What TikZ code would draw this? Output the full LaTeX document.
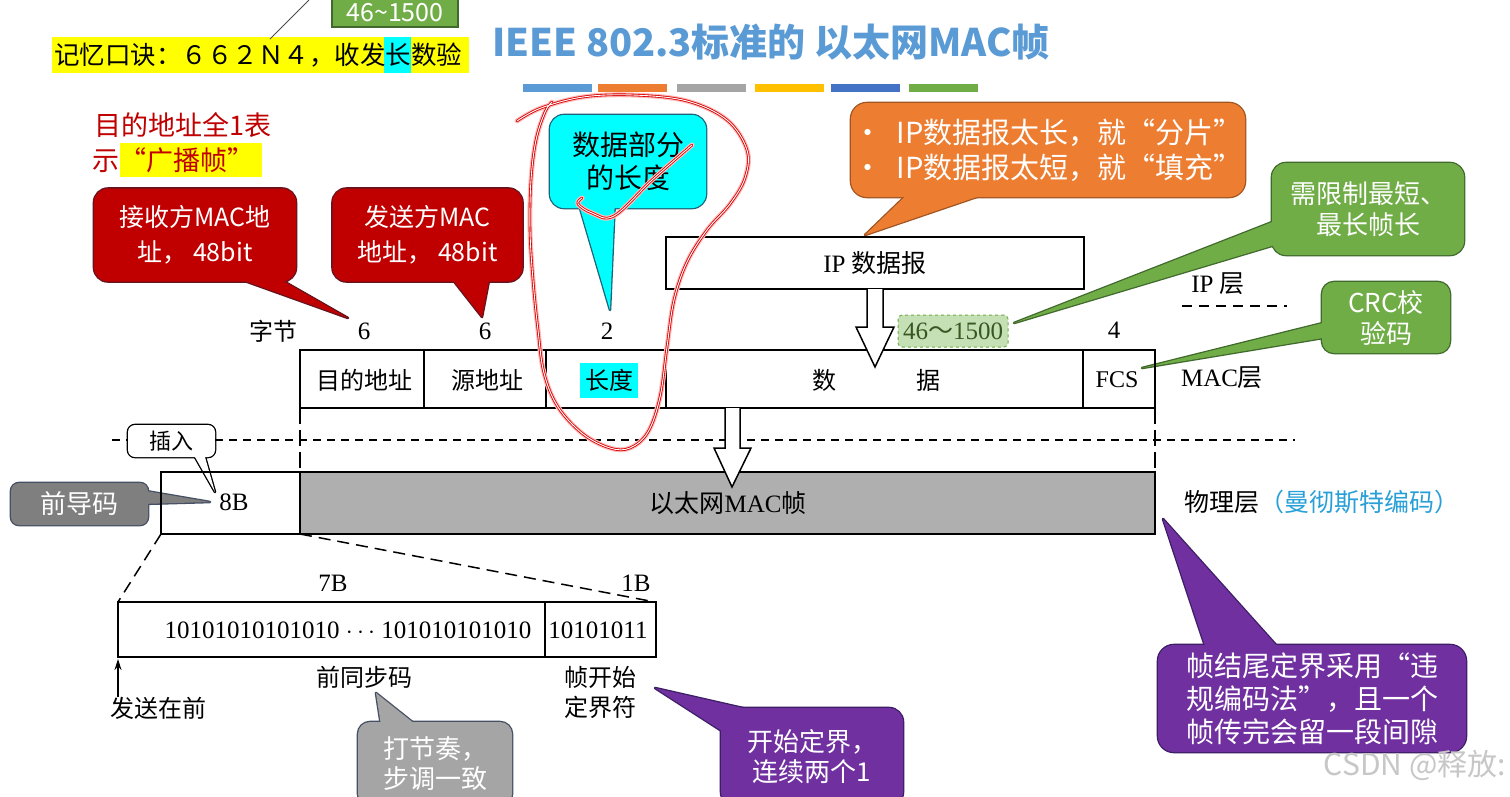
\documentclass[tikz,border=0pt]{standalone}
\usepackage{fontspec}
\setmainfont{Liberation Serif}
\newfontfamily\cjk{Noto Sans CJK SC}
\usetikzlibrary{arrows.meta,calc}
\pgfdeclarelayer{back}
\pgfdeclarelayer{bg}
\pgfsetlayers{back,bg,main}
\definecolor{titleblue}{RGB}{91,155,213}
\definecolor{cred}{RGB}{192,0,0}
\definecolor{credb}{RGB}{100,20,30}
\definecolor{ccyan}{RGB}{0,255,255}
\definecolor{ccyanb}{RGB}{30,100,120}
\definecolor{corange}{RGB}{237,125,49}
\definecolor{corangeb}{RGB}{160,85,35}
\definecolor{cgreen}{RGB}{112,173,71}
\definecolor{cgreenb}{RGB}{65,105,45}
\definecolor{cpurple}{RGB}{112,48,160}
\definecolor{cpurpleb}{RGB}{60,30,100}
\definecolor{cgray}{RGB}{127,127,127}
\definecolor{cgrayb}{RGB}{70,80,100}
\definecolor{cgraylt}{RGB}{165,165,165}
\definecolor{bargray}{RGB}{175,175,175}
\definecolor{lgreen}{RGB}{197,224,180}
\definecolor{dgreen}{RGB}{56,87,35}
\definecolor{manblue}{RGB}{40,160,215}
\definecolor{hlyellow}{RGB}{255,255,0}
\definecolor{barA}{RGB}{91,155,213}
\definecolor{barB}{RGB}{237,125,49}
\definecolor{barC}{RGB}{165,165,165}
\definecolor{barD}{RGB}{255,192,0}
\definecolor{barE}{RGB}{68,114,196}
\definecolor{barF}{RGB}{112,173,71}
\newcommand\fsz[2]{\fontsize{#1}{#2}\selectfont}
\newcommand\mycallout[5]{%
  \begin{pgfonlayer}{bg}
    \draw[draw=#3, line width=2.6pt, rounded corners=#5] (#1.south west) rectangle (#1.north east);
    \draw[draw=#3, line width=2.6pt, line join=round] #4 -- cycle;
    \fill[fill=#2, rounded corners=#5] (#1.south west) rectangle (#1.north east);
    \fill[fill=#2] #4 -- cycle;
  \end{pgfonlayer}}
\tikzset{
  cbox/.style={inner sep=0pt, outer sep=0pt, align=center, text=white},
  dtext/.style={inner sep=0pt, font=\fsz{25}{30}},
  ctext/.style={inner sep=0pt, font={\cjk\fsz{24}{30}}},
  thickbox/.style={line width=2.5pt},
  divider/.style={line width=1.3pt},
  dashline/.style={line width=1.5pt, dash pattern=on 8pt off 6pt},
  hollowarrow/.style={fill=white, draw=black, line width=1.5pt, line join=miter},
  inkglow/.style={red!25, line width=5pt, line cap=round, line join=round},
  inkred/.style={red!85!black, line width=2.6pt, line cap=round, line join=round},
  inkwhite/.style={white, line width=0.9pt, line cap=round, line join=round}
}
\begin{document}
\begin{tikzpicture}[x=1pt,y=-1pt]
\begin{pgfonlayer}{back}
  \fill[white] (0,0) rectangle (1510,796);
\end{pgfonlayer}
\useasboundingbox (0,0) rectangle (1510,796);

% title and colour bars
\node[anchor=west, inner sep=0pt, font={\cjk\bfseries\fsz{38}{44}}, text=titleblue] (title) at (492,42) {IEEE 802.3标准的 以太网MAC帧};
\foreach \x/\c in {523/barA,598/barB,677/barC,755/barD,831/barE,909/barF}
  \fill[\c] (\x,84) rectangle ++(69,8);

% memory line
\fill[hlyellow] (52,37) rectangle (469,73);
\fill[ccyan] (384,37) rectangle (411,73);
\node[anchor=west, inner sep=0pt, font={\cjk\fsz{25.5}{30}}] (mnem) at (54,55) {记忆口诀：６６２Ｎ４，收发长数验};

% cropped green box at top
\filldraw[fill=cgreen, draw=cgreenb, line width=1.3pt] (332,-5) rectangle (458,27);
\node[inner sep=0pt, text=white, font={\cjk\fsz{25}{30}}] (g0) at (395,13) {46\textasciitilde1500};
\coordinate (g0tail) at (309,0);
\coordinate (g0tip) at (270,39);
\draw[black!70, line width=1pt] (g0tip) -- (g0tail);

% broadcast note
\node[anchor=west, inner sep=0pt, text=cred, font={\cjk\fsz{27}{34}}] (bc1) at (94,125) {目的地址全1表};
\fill[hlyellow] (120,143) rectangle (262,177);
\node[anchor=west, inner sep=0pt, text=cred, font={\cjk\fsz{27}{34}}] (bc2) at (92,160) {示“广播帧”};

% callouts
\node[cbox, minimum width=202pt, minimum height=93pt, font={\cjk\fsz{25}{35}}] (rc1) at (195,235) {接收方MAC地\\址，\ 48bit};
\mycallout{rc1}{cred}{credb}{(214,270) -- (348,318) -- (264,270)}{14pt}
\node[cbox, minimum width=190pt, minimum height=93pt, font={\cjk\fsz{25}{35}}] (rc2) at (427.5,235) {发送方MAC\\地址，\ 48bit};
\mycallout{rc2}{cred}{credb}{(445,270) -- (482,317) -- (491,270)}{14pt}

\node[cbox, text=black, minimum width=156pt, minimum height=93pt, font={\cjk\fsz{28}{33}}] (cy) at (628,161.5) {数据部分\\的长度};
\mycallout{cy}{ccyan}{ccyanb}{(577,198) -- (610,310) -- (615,198)}{14pt}

\node[cbox, align=left, minimum width=394pt, minimum height=94pt, font={\cjk\fsz{29}{35}}] (or) at (1048,150) {•\hspace{14pt}IP数据报太长，就“分片”\\•\hspace{14pt}IP数据报太短，就“填充”};
\mycallout{or}{corange}{corangeb}{(917,185) -- (865,235) -- (1012,185)}{16pt}

\node[cbox, minimum width=192pt, minimum height=92pt, font={\cjk\fsz{26}{31}}] (gr1) at (1368,209) {需限制最短、\\最长帧长};
\mycallout{gr1}{cgreen}{cgreenb}{(1285,217) -- (1014,323) -- (1285,242)}{14pt}

\node[cbox, minimum width=128pt, minimum height=71pt, font={\cjk\fsz{26}{31}}] (gr2) at (1386,317.5) {CRC校\\验码};
\mycallout{gr2}{cgreen}{cgreenb}{(1335,320) -- (1142,368) -- (1335,336)}{12pt}

\node[cbox, text=black, minimum width=87pt, minimum height=32pt, font={\cjk\fsz{22}{26}}] (ins) at (171.5,441) {插入};
\mycallout{ins}{white}{black}{(191,450) -- (215,492) -- (203,450)}{7pt}

\node[cbox, minimum width=137pt, minimum height=42pt, font={\cjk\fsz{26}{30}}] (pre) at (79.5,504) {前导码};
\mycallout{pre}{cgray}{cgrayb}{(140,490) -- (210,502) -- (140,504)}{8pt}

\node[cbox, minimum width=154pt, minimum height=84pt, font={\cjk\fsz{26}{30}}] (rhy) at (435,764) {打节奏，\\步调一致};
\mycallout{rhy}{cgraylt}{cgrayb}{(382,732) -- (376,693) -- (425,732)}{12pt}

\node[cbox, minimum width=182pt, minimum height=98pt, font={\cjk\fsz{26}{30}}] (sfd) at (812,757) {开始定界，\\连续两个1};
\mycallout{sfd}{cpurple}{cpurpleb}{(728,735) -- (655,688) -- (778,716)}{14pt}

\node[cbox, minimum width=308pt, minimum height=107pt, font={\cjk\fsz{28}{33}}] (eof) at (1312,698.5) {帧结尾定界采用“违\\规编码法”，且一个\\帧传完会留一段间隙};
\mycallout{eof}{cpurple}{cpurpleb}{(1208,655) -- (1163,519) -- (1285,655)}{16pt}

% byte counts
\node[ctext] (zj) at (273,331) {字节};
\node[dtext] (n1) at (364,331) {6};
\node[dtext] (n2) at (485,331) {6};
\node[dtext] (n3) at (607,331) {2};
\node[draw=cgreen, dashed, line width=1pt, fill=lgreen, rounded corners=4pt, minimum width=110pt, minimum height=32pt, inner sep=0pt, text=dgreen, font=\fsz{25}{30}] (n4) at (953,331) {46{\cjk ～}1500};
\node[dtext] (n5) at (1114,330) {4};

% IP datagram
\node[draw, thickbox, minimum width=418pt, minimum height=52pt, inner sep=0pt, outer sep=0pt, font=\fsz{25}{30}] (ip) at (875,263) {IP {\cjk 数据报}};
\node[dtext] (iplayer) at (1218,284) {IP {\cjk 层}};
\draw[dashline, dash pattern=on 10pt off 7pt] (1182,306) -- (1287,306);

% MAC frame
\fill[ccyan] (580,363) rectangle (638,398);
\draw[thickbox] (300,350) rectangle (1155,408);
\foreach \x in {424,546,666,1083} \draw[divider] (\x,350) -- (\x,408);
\node[ctext] (da) at (364,380) {目的地址};
\node[ctext] (sa) at (487,380) {源地址};
\node[ctext] (len) at (609,380) {长度};
\node[ctext] (data) at (876,380) {数\hspace{80pt}据};
\node[dtext, font=\fsz{24}{30}] (fcs) at (1117,380) {FCS};
\node[dtext] (maclayer) at (1222,378) {MAC{\cjk 层}};

% arrows
\draw[hollowarrow] (867,289) -- (867,327) -- (856,327) -- (875,367) -- (894,327) -- (883,327) -- (883,289);

% layer separators
\draw[dashline] (112,440) -- (128,440);
\draw[dashline] (215,440) -- (1295,440);
\draw[line width=1.5pt, dash pattern=on 16pt off 6pt] (300,408) -- (300,472);
\draw[line width=1.5pt, dash pattern=on 16pt off 6pt] (1155,408) -- (1155,472);

% physical layer
\filldraw[fill=bargray, thickbox] (300,472) rectangle (1155,534);
\draw[thickbox] (161,472) rectangle (300,534);
\node[dtext] (eightb) at (234,502) {8B};
\node[inner sep=0pt, font={\cjk\fsz{25}{30}}] (macf) at (728,503) {以太网{\rmfamily MAC}帧};
\node[anchor=west, inner sep=0pt, font={\cjk\fsz{25}{30}}] (phy) at (1184,502) {物理层\textcolor{manblue}{（曼彻斯特编码）}};
\draw[hollowarrow] (725,408) -- (725,448) -- (714,448) -- (732,487) -- (751,448) -- (740,448) -- (740,408);

% preamble expansion
\draw[line width=1.5pt, dash pattern=on 12pt off 7pt] (161,534) -- (118,602);
\draw[line width=1.5pt, dash pattern=on 12pt off 7pt] (300,534) -- (655,602);
\draw[thickbox] (118,602) rectangle (656,657);
\draw[divider] (545,602) -- (545,657);
\node[dtext] (sync) at (348,630) {10101010101010 $\cdots$ 101010101010};
\node[dtext] (sfdbits) at (598,630) {10101011};
\node[dtext] (sevenb) at (333,583) {7B};
\node[dtext] (oneb) at (636,583) {1B};
\coordinate (sendfoot) at (118,697);
\coordinate (sendhead) at (118,659);
\draw[-{Stealth[length=11pt,width=7pt]}, line width=1.3pt] (sendfoot) -- (sendhead);
\node[ctext] (first) at (158,708) {发送在前};
\node[ctext] (presync) at (364,677) {前同步码};
\node[ctext, align=center] (sfdtxt) at (600,692) {帧开始\\定界符};

% watermark
\node[anchor=east, inner sep=0pt, text=black!22, font={\cjk\fsz{30}{34}}] (csdn) at (1506,765) {CSDN @释放:};

% red ink annotation
\foreach \s in {inkglow,inkred,inkwhite}{
  \draw[\s] plot[smooth, tension=0.6] coordinates {(517,121) (541,108) (583,97) (633,95) (687,101) (727,120) (747,150) (745,178) (730,204) (707,230) (687,262) (674,300) (667,347) (660,397) (648,432) (630,448) (610,448) (583,434) (558,407) (544,373) (538,330) (533,280) (530,230) (531,180) (536,140) (545,112) (552,102)};
  \draw[\s] plot[smooth, tension=0.6] coordinates {(692,145) (652,180) (614,216) (592,213) (578,204) (582,198)};
}
\end{tikzpicture}
\end{document}
